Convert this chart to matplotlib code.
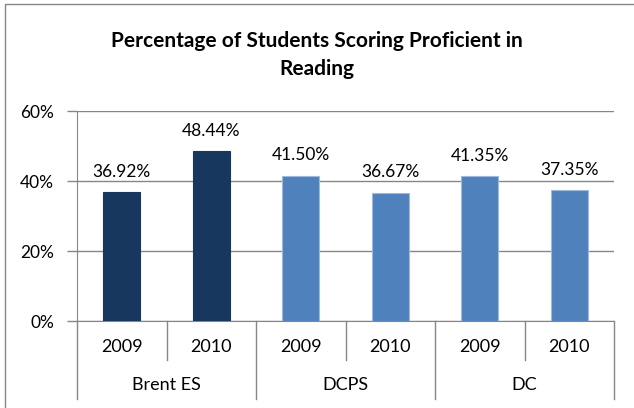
import matplotlib
matplotlib.use('Agg')
import matplotlib.pyplot as plt
from matplotlib.lines import Line2D
from matplotlib.patches import Rectangle
from matplotlib.ticker import FuncFormatter

groups = ["Brent ES", "DCPS", "DC"]
years = ["2009", "2010"]
values = [0.3692, 0.4844, 0.4150, 0.3667, 0.4135, 0.3735]
bar_colors = ["#17375E", "#17375E", "#4F81BD", "#4F81BD", "#4F81BD", "#4F81BD"]
edge_colors = ["#17375E", "#17375E", "#9DB9DE", "#9DB9DE", "#9DB9DE", "#9DB9DE"]

plt.rcParams['font.family'] = ['Lato', 'DejaVu Sans']
GRAY = '#868686'
W, H = 634, 408

fig = plt.figure(figsize=(W / 100, H / 100), dpi=100, facecolor='white')
# outer chart border (only top/left visible in the crop)
fig.patches.append(Rectangle((5 / W, -0.05), 1.2, 1.05 - 4 / H, transform=fig.transFigure,
                             fill=False, edgecolor=GRAY, linewidth=1.0))

ax = fig.add_axes([77 / W, (H - 321) / H, 537 / W, 210 / H])
x = list(range(len(values)))
ax.bar(x, values, width=0.41, color=bar_colors, edgecolor=edge_colors, linewidth=0.8, zorder=3)

ax.set_xlim(-0.5, len(values) - 0.5)
ax.set_ylim(0, 0.6)
ax.set_yticks([0, 0.2, 0.4, 0.6])
ax.yaxis.set_major_formatter(FuncFormatter(lambda v, p: f"{v*100:.0f}%"))
ax.grid(axis='y', color=GRAY, linewidth=1.0, zorder=0)
ax.tick_params(axis='y', length=7, width=1, color=GRAY, labelsize=12.5, pad=9.5)
ax.tick_params(axis='x', length=0, labelbottom=False)

for s in ['top', 'right']:
    ax.spines[s].set_visible(False)
ax.spines['left'].set_color(GRAY)
ax.spines['bottom'].set_color(GRAY)

for xi, v in zip(x, values):
    ax.annotate(f"{v*100:.2f}%", (xi, v), xytext=(0, 11), textcoords='offset points',
                ha='center', va='baseline', fontsize=12.5, color='#000000')

# two-level category axis
tr = ax.get_xaxis_transform()
px = 1 / 210
for i in range(len(values)):
    ax.text(i, -26 * px, years[i % 2], transform=tr, ha='center', va='center', fontsize=13)
for k in range(len(values) + 1):
    bottom = -78 * px if k % 2 == 0 else -39 * px
    ax.add_line(Line2D([k - 0.5, k - 0.5], [0, bottom], transform=tr, color=GRAY,
                       linewidth=1.0, clip_on=False))
for g, name in enumerate(groups):
    ax.text(2 * g + 0.5, -64 * px, name, transform=tr, ha='center', va='center', fontsize=13)

fig.text(0.5, 1 - 41 / H, "Percentage of Students Scoring Proficient in", ha='center', va='center',
         fontsize=15, fontweight='bold')
fig.text(0.5, 1 - 69 / H, "Reading", ha='center', va='center', fontsize=15, fontweight='bold')

fig.savefig('out.png', dpi=100, facecolor='white')
